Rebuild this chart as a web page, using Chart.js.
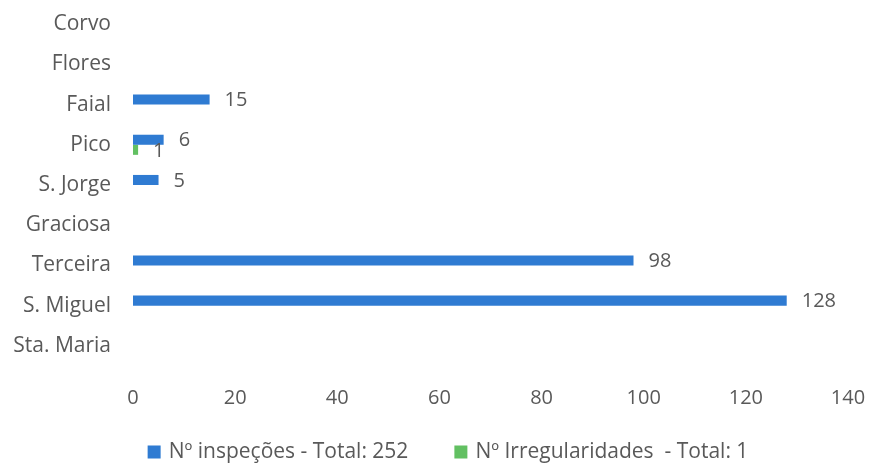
<!DOCTYPE html>
<html>
<head>
<meta charset="utf-8">
<script src="https://cdn.jsdelivr.net/npm/chart.js@4"></script>
<style>
  html, body { margin: 0; padding: 0; background: #fff; }
  #wrap { width: 876px; height: 464px; }
</style>
</head>
<body>
<div id="wrap"><canvas id="barChart" width="876" height="464"></canvas></div>
<script>
// Islands, top to bottom as in the picture
const islands = ['Corvo', 'Flores', 'Faial', 'Pico', 'S. Jorge', 'Graciosa', 'Terceira', 'S. Miguel', 'Sta. Maria'];
const inspecoes = [null, null, 15, 6, 5, null, 98, 128, null];
const irregularidades = [null, null, null, 1, null, null, null, null, null];
const xTicks = [0, 20, 40, 60, 80, 100, 120, 140];

const blue = '#2f7bd2';
const green = '#62c062';
const textColor = '#595959';
const fontFamily = '"Open Sans", sans-serif';

// Write the value at the end of each bar
const valueLabels = {
    id: 'valueLabels',
    afterDatasetsDraw(chart) {
        const ctx = chart.ctx;
        ctx.save();
        ctx.fillStyle = textColor;
        ctx.font = '20px ' + fontFamily;
        ctx.textBaseline = 'middle';
        ctx.textAlign = 'left';
        chart.data.datasets.forEach((ds, i) => {
            chart.getDatasetMeta(i).data.forEach((bar, j) => {
                const v = ds.data[j];
                if (v === null || v === undefined) return;
                ctx.fillText(String(v), bar.x + 15, bar.y + 1);
            });
        });
        ctx.restore();
    }
};

// Legend drawn by hand so the gap between the two items can be kept
const bottomLegend = {
    id: 'bottomLegend',
    afterDraw(chart) {
        const ctx = chart.ctx;
        const box = 13, textGap = 8, itemGap = 46, y = 452, centerX = 448;
        ctx.save();
        ctx.font = '21px ' + fontFamily;
        ctx.textBaseline = 'middle';
        ctx.textAlign = 'left';
        const items = chart.data.datasets.map(ds => ({
            text: ds.label,
            color: ds.backgroundColor,
            width: box + textGap + ctx.measureText(ds.label).width
        }));
        const total = items.reduce((s, it) => s + it.width, 0) + itemGap * (items.length - 1);
        let x = centerX - total / 2;
        items.forEach(it => {
            ctx.fillStyle = it.color;
            ctx.fillRect(x, y - box / 2, box, box);
            ctx.fillStyle = textColor;
            ctx.fillText(it.text, x + box + textGap, y);
            x += it.width + itemGap;
        });
        ctx.restore();
    }
};

new Chart(document.getElementById('barChart').getContext('2d'), {
    type: 'bar',
    data: {
        labels: islands,
        datasets: [{
            label: 'Nº inspeções - Total: 252',
            data: inspecoes,
            backgroundColor: blue,
            categoryPercentage: 0.5,
            barPercentage: 1.0
        }, {
            label: 'Nº Irregularidades  - Total: 1',
            data: irregularidades,
            backgroundColor: green,
            categoryPercentage: 0.5,
            barPercentage: 1.0
        }]
    },
    options: {
        indexAxis: 'y',
        responsive: false,
        animation: false,
        layout: { padding: { top: 4, right: 28, left: 0, bottom: 0 } },
        scales: {
            x: {
                min: 0,
                max: 140,
                afterBuildTicks: axis => { axis.ticks = xTicks.map(v => ({ value: v })); },
                grid: { display: false, drawTicks: false },
                border: { display: false },
                ticks: { color: textColor, font: { family: fontFamily, size: 20 }, padding: 20 },
                afterFit: axis => {
                    axis.height = 98;
                    axis.paddingLeft = 0;
                    axis.paddingRight = 0;
                }
            },
            y: {
                grid: { display: false, drawTicks: false },
                border: { display: false },
                ticks: { color: textColor, font: { family: fontFamily, size: 21 }, padding: 22 },
                afterFit: axis => {
                    axis.width = 133;
                    axis.paddingTop = 0;
                    axis.paddingBottom = 0;
                }
            }
        },
        plugins: {
            legend: { display: false },
            tooltip: { enabled: false }
        }
    },
    plugins: [valueLabels, bottomLegend]
});
</script>
</body>
</html>
